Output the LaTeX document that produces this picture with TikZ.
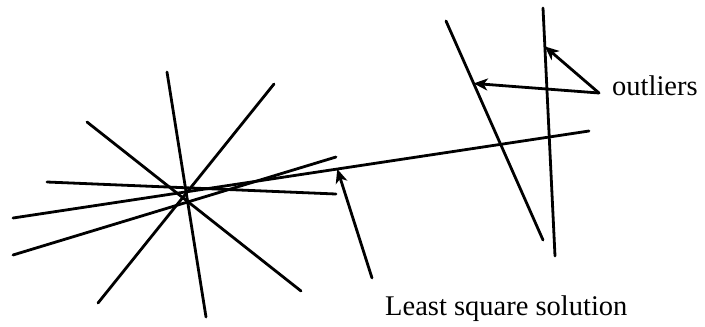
\documentclass[tikz,border=0pt]{standalone}
\usepackage{fontspec}
\setmainfont{Liberation Serif}
\usetikzlibrary{arrows.meta, positioning, calc}

\begin{document}
\begin{tikzpicture}[
        x=1bp, y=-1bp,
        stroke/.style={line width=2.8bp, line cap=round},
        pointer/.style={stroke, -{Stealth[length=14bp, width=12bp, inset=4bp]}},
        caption/.style={font=\fontsize{28.5bp}{32bp}\selectfont, inner sep=0pt, anchor=base west}
    ]
        \useasboundingbox (0,0) rectangle (705,326);

        % Lines through the common point
        \coordinate (v1) at (167,72);   \coordinate (v2) at (206,317);
        \coordinate (a1) at (274,84);   \coordinate (a2) at (98,303);
        \coordinate (b1) at (87,122);   \coordinate (b2) at (301,291);
        \coordinate (h1) at (47,182);   \coordinate (h2) at (336,194);
        \coordinate (c1) at (13,255);   \coordinate (c2) at (336,157);
        \draw[stroke] (v1) -- (v2);
        \draw[stroke] (a1) -- (a2);
        \draw[stroke] (b1) -- (b2);
        \draw[stroke] (h1) -- (h2);
        \draw[stroke] (c1) -- (c2);

        % Least square line
        \coordinate (ls1) at (13,218);  \coordinate (ls2) at (589,131);
        \draw[stroke] (ls1) -- (ls2);

        % Outlier lines
        \coordinate (o1) at (446,21);   \coordinate (o2) at (543,240);
        \coordinate (p1) at (543,8);    \coordinate (p2) at (555,256);
        \draw[stroke] (o1) -- (o2);
        \draw[stroke] (p1) -- (p2);

        % Labels
        \node[caption] (outl) at (612,95) {outliers};
        \node[caption] (lsq) at (385,315) {Least square solution};

        % Pointers
        \coordinate (outstart) at (599,93);
        \coordinate (lsstart) at (372,278);
        \draw[pointer] (outstart) -- ($(o1)!0.285!(o2)$);
        \draw[pointer] (outstart) -- ($(p1)!0.155!(p2)$);
        \draw[pointer] (lsstart) -- ($(ls1)!0.563!(ls2)$);
    \end{tikzpicture}
\end{document}
